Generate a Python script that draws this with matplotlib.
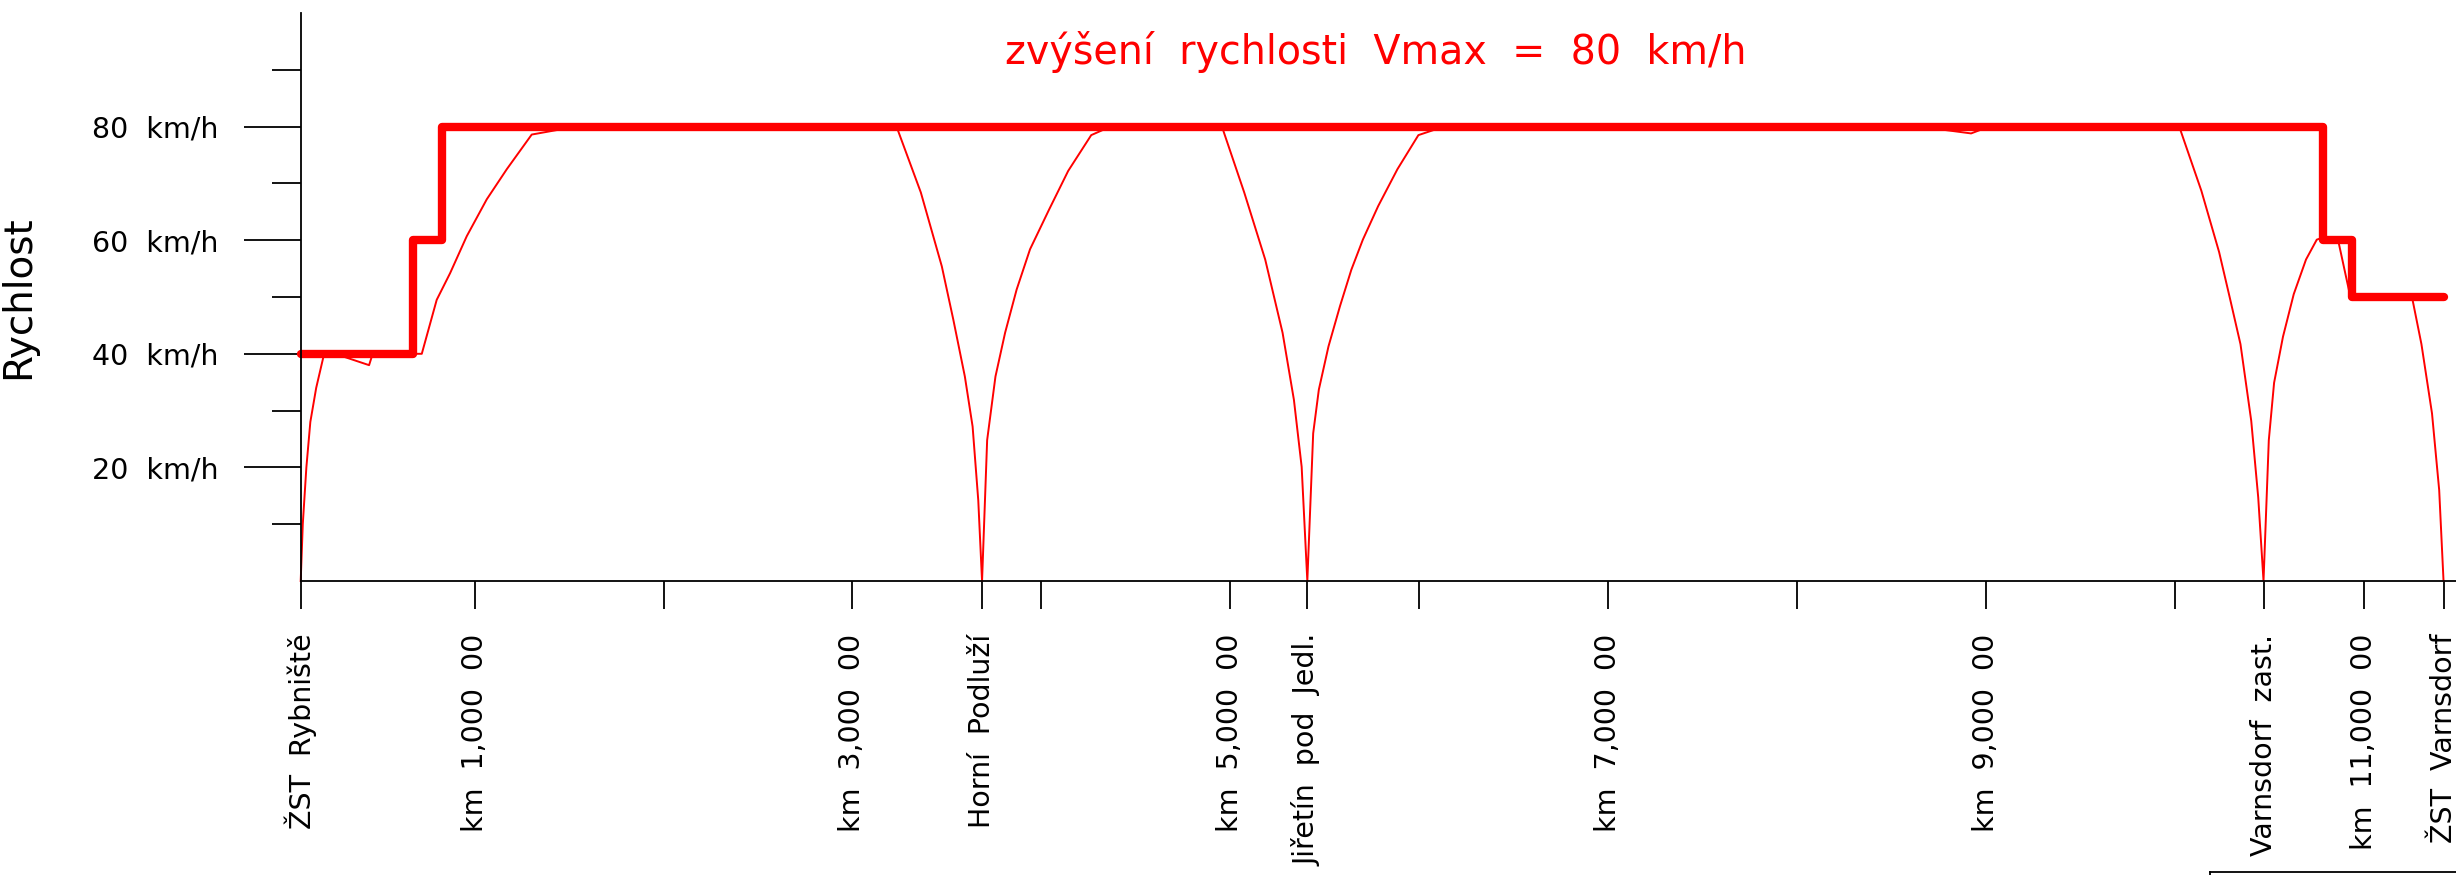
import matplotlib
matplotlib.use("Agg")
import matplotlib.pyplot as plt
from matplotlib.lines import Line2D

# Speed limit (thick step line), chainage in m, speed in km/h
limit_km = [79, 672, 672, 826, 826, 10785, 10785, 10939, 10939, 11423]
limit_v = [40, 40, 60, 60, 80, 80, 60, 60, 50, 50]

# Driving profile (thin line)
drive_km = [79, 90, 109, 130, 161, 203, 261, 441, 460, 720, 799, 870, 958, 1064,
            1170, 1302, 1470, 1531,
            3240, 3362, 3473, 3534, 3595, 3636, 3666, 3686,
            3713, 3757, 3808, 3869, 3940, 4041, 4142, 4264, 4325, 4364,
            4962, 5074, 5185, 5277, 5337, 5378, 5408,
            5439, 5469, 5520, 5581, 5641, 5702, 5783, 5885, 5996, 6077, 6121,
            8647, 8922, 9017,
            10029, 10141, 10235, 10292, 10348, 10405, 10442, 10470,
            10498, 10526, 10573, 10630, 10695, 10752, 10770, 10865, 10930,
            11259, 11306, 11362, 11400, 11423]
drive_v = [0, 10, 20, 28, 34, 40, 40, 38, 40, 40, 49.5, 54.2, 60.7, 67.2,
           72.5, 78.6, 79.6, 80,
           79.4, 68.4, 55.4, 46.0, 36.0, 27.2, 14.2, 0,
           24.8, 36.0, 43.7, 51.3, 58.4, 65.4, 72.2, 78.5, 79.4, 80,
           79.4, 68.4, 56.6, 43.7, 31.9, 20.1, 0,
           26.0, 33.7, 41.3, 48.4, 54.8, 60.1, 66.0, 72.5, 78.5, 79.4, 80,
           80, 78.8, 80,
           79.5, 68.7, 57.9, 49.8, 41.7, 28.2, 14.7, 0,
           24.8, 34.9, 43.0, 50.5, 56.6, 60.1, 60.3, 60, 50,
           49.5, 41.7, 29.5, 16.0, 0]

# x axis ticks and labels
km_ticks = [1000, 2000, 3000, 4000, 5000, 6000, 7000, 8000, 9000, 10000, 11000]
km_labels = {1000: "km  1,000  00", 3000: "km  3,000  00", 5000: "km  5,000  00",
             7000: "km  7,000  00", 9000: "km  9,000  00", 11000: "km  11,000  00"}
stations_km = [79, 3686, 5408, 10470, 11423]
stations = ["ŽST  Rybniště", "Horní  Podluží", "Jiřetín  pod  Jedl.",
            "Varnsdorf  zast.", "ŽST  Varnsdorf"]

y_major = [20, 40, 60, 80]
y_minor = [10, 30, 50, 70, 90]

W, H = 2456, 875
fig = plt.figure(figsize=(W / 100, H / 100), dpi=100)
ax = fig.add_axes([300.7 / W, (H - 581) / H, (W - 300.7) / W, (581 - 13) / H])

red = "#ff0000"
ax.plot(drive_km, drive_v, color=red, linewidth=1.4, clip_on=False)
ax.plot(limit_km, limit_v, color=red, linewidth=6.0, solid_capstyle="round",
        solid_joinstyle="round", clip_on=False)

ax.set_xlim(79, 11489)
ax.set_ylim(0, 100)

for s in ["top", "right"]:
    ax.spines[s].set_visible(False)
for s in ["left", "bottom"]:
    ax.spines[s].set_linewidth(1.3)

# x ticks
xt = sorted(km_ticks + stations_km)
xl = []
for t in xt:
    if t in stations_km:
        xl.append(stations[stations_km.index(t)])
    else:
        xl.append(km_labels.get(t, ""))
ax.set_xticks(xt)
ax.set_xticklabels(xl, rotation=90, fontsize=20.5)
ax.tick_params(axis="x", direction="out", length=20, width=1.3, pad=18)

# y ticks
ax.set_yticks(y_major)
ax.set_yticklabels(["%d  km/h" % v for v in y_major], fontsize=20.5)
ax.set_yticks(y_minor, minor=True)
ax.tick_params(axis="y", which="major", direction="out", length=41, width=1.3, pad=18)
ax.tick_params(axis="y", which="minor", direction="out", length=21, width=1.3)

ax.set_ylabel("Rychlost", fontsize=28)
ax.yaxis.set_label_coords(-264 / (W - 300.7), 0.5)

fig.text(1376 / W, 1 - 52 / H, "zvýšení  rychlosti  Vmax  =  80  km/h", color=red,
         fontsize=28.5, ha="center", va="center")

# box corner at bottom right
fig.add_artist(Line2D([2210 / W, 1], [3 / H, 3 / H], color="black", linewidth=1.3))
fig.add_artist(Line2D([2210 / W, 2210 / W], [0, 3 / H], color="black", linewidth=1.3))

fig.savefig("out.png", dpi=100)
